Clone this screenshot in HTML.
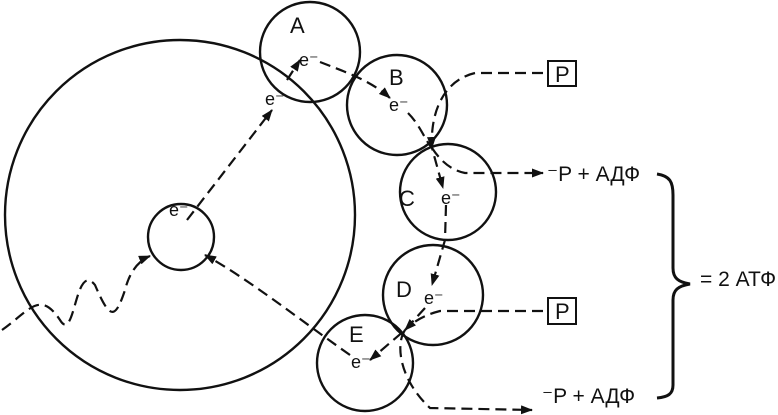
<!DOCTYPE html>
<html><head><style>body{margin:0;background:#fff}svg{display:block}text{font-family:"Liberation Sans",sans-serif;fill:#111}.L{font-size:22px}.M{font-size:21px}.S{font-size:18px}</style></head><body>
<svg width="778" height="415" viewBox="0 0 778 415">
<defs><marker id="a" markerWidth="12" markerHeight="9" refX="11" refY="4.5" orient="auto" markerUnits="userSpaceOnUse"><path d="M0,0 L12,4.5 L0,9 Z" fill="#111"/></marker></defs>
<g fill="none" stroke="#111" stroke-width="2.4">
<circle cx="180" cy="215" r="175"/>
<circle cx="181" cy="237" r="33"/>
<circle cx="310" cy="52" r="50"/>
<circle cx="397" cy="105" r="50"/>
<circle cx="448" cy="192" r="48"/>
<circle cx="433" cy="295" r="50"/>
<circle cx="365" cy="363" r="48"/>
</g>
<g fill="none" stroke="#111" stroke-width="2.2" stroke-dasharray="11,6" marker-end="url(#a)">
<path d="M2,330 C30,310 40,290 60,320 C75,345 75,260 95,285 C110,320 115,320 125,290 C130,270 140,260 150,256"/>
<path d="M187,220 L272,110"/>
<path d="M287,80 L300,60"/>
<path d="M320,62 C345,72 370,80 390,98"/>
<path d="M408,113 C420,125 425,140 432,148 L443,188"/>
<path d="M432,148 C440,160 450,170 465,173 L543,173"/>
<path d="M543,73 L475,73 C445,80 430,110 432,148"/>
<path d="M446,205 L445,240 L432,285"/>
<path d="M425,308 L405,330 L370,360"/>
<path d="M543,311 L440,311 C420,316 410,325 405,330"/>
<path d="M405,330 C395,345 400,380 430,408 L532,410"/>
<path d="M350,355 C300,320 250,280 205,255"/>
</g>
<g fill="none" stroke="#111" stroke-width="2">
<rect x="548" y="61" width="28" height="25"/>
<rect x="548" y="298" width="28" height="26"/>
</g>
<path d="M657,174 C670,176 673,182 673,195 L673,268 C673,278 678,282 690,284 C678,286 673,290 673,300 L673,385 C673,394 668,397 657,398" fill="none" stroke="#111" stroke-width="3"/>
<text class="L" x="290" y="33">A</text><text class="L" x="389" y="85">B</text><text class="L" x="399" y="206">C</text><text class="L" x="396" y="297">D</text><text class="L" x="349" y="342">E</text>
<text class="L" x="555" y="82">P</text><text class="L" x="555" y="319">P</text>
<text class="M" x="547" y="181">⁻P + АДФ</text><text class="M" x="542" y="403">⁻P + АДФ</text>
<text class="M" x="700" y="286">= 2 АТФ</text>
<text class="S" x="299" y="66">e⁻</text><text class="S" x="265" y="105">e⁻</text><text class="S" x="389" y="111">e⁻</text><text class="S" x="441" y="204">e⁻</text><text class="S" x="424" y="304">e⁻</text><text class="S" x="351" y="368">e⁻</text><text class="S" x="169" y="216">e⁻</text>
</svg></body></html>
